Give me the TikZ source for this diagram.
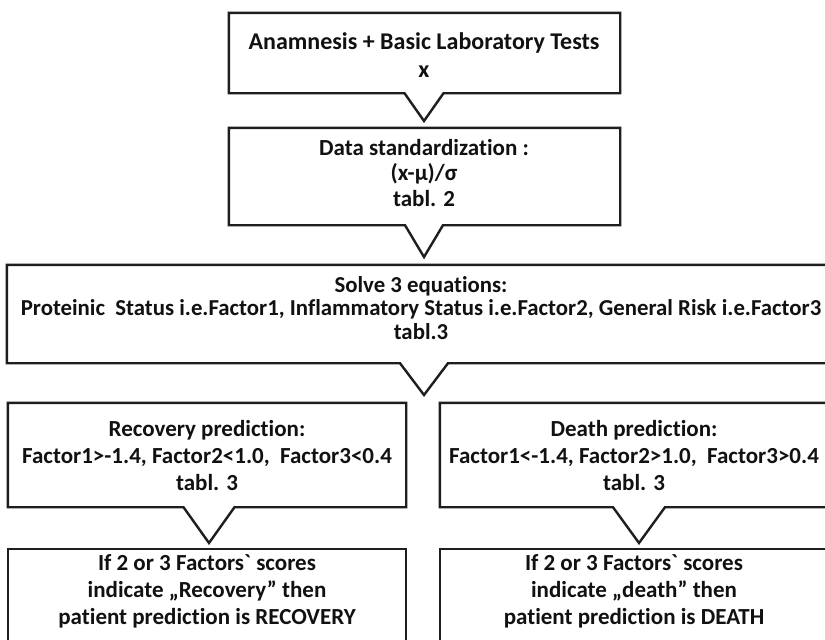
\documentclass[tikz,border=0pt]{standalone}
\usepackage{fontspec}
\newfontfamily\calib{Carlito}[Ligatures=NoCommon]
\usetikzlibrary{calc}
\definecolor{linecol}{HTML}{1E1E1E}
\definecolor{txtcol}{HTML}{111111}
\begin{document}
\begin{tikzpicture}[x=1pt,y=-1pt,
  boxline/.style={draw=linecol, line width=2.4pt, line join=miter},
  frame/.style={rectangle, inner sep=0pt, draw=none},
  txt/.style={align=center, inner sep=0pt, text=txtcol},
  fA/.style={font=\calib\bfseries\fontsize{24}{28}\selectfont},
  fB/.style={font=\calib\bfseries\fontsize{23}{25.5}\selectfont},
  fC/.style={font=\calib\bfseries\fontsize{22.8}{23.5}\selectfont},
  fD/.style={font=\calib\bfseries\fontsize{23}{27}\selectfont}]
\useasboundingbox (0,0) rectangle (825,640);
\clip (0,0) rectangle (825,640);
\fill[white] (0,0) rectangle (825,640);

% box frames
\node[frame, minimum width=391pt, minimum height=80pt] (b1) at (424.5,53) {};
\node[frame, minimum width=391pt, minimum height=97pt] (b2) at (424.5,176.5) {};
\node[frame, minimum width=834pt, minimum height=98pt] (b3) at (424,314) {};
\node[frame, minimum width=398pt, minimum height=104pt] (b4) at (207,455) {};
\node[frame, minimum width=398pt, minimum height=151pt] (b5) at (207,624.5) {};
\node[frame, minimum width=396pt, minimum height=104pt] (b6) at (638,455) {};
\node[frame, minimum width=396pt, minimum height=151pt] (b7) at (638,624.5) {};

% notch tips
\coordinate (n1) at (424,121);
\coordinate (n2) at (424,257);
\coordinate (n3) at (424,395);
\coordinate (n4) at (209,543);
\coordinate (n6) at (639,543);

% callout outlines
\draw[boxline] (b1.south west) -- (b1.north west) -- (b1.north east) -- (b1.south east)
  -- ($(n1|-b1.south)+(19.5,0)$) -- (n1) -- ($(n1|-b1.south)+(-19.5,0)$) -- cycle;
\draw[boxline] (b2.south west) -- (b2.north west) -- (b2.north east) -- (b2.south east)
  -- ($(n2|-b2.south)+(19,0)$) -- (n2) -- ($(n2|-b2.south)+(-19,0)$) -- cycle;
\draw[boxline] (b3.south west) -- (b3.north west) -- (b3.north east) -- (b3.south east)
  -- ($(n3|-b3.south)+(24,0)$) -- (n3) -- ($(n3|-b3.south)+(-24,0)$) -- cycle;
\draw[boxline] (b4.south west) -- (b4.north west) -- (b4.north east) -- (b4.south east)
  -- ($(n4|-b4.south)+(25.5,0)$) -- (n4) -- ($(n4|-b4.south)+(-25.5,0)$) -- cycle;
\draw[boxline] (b6.south west) -- (b6.north west) -- (b6.north east) -- (b6.south east)
  -- ($(n6|-b6.south)+(26,0)$) -- (n6) -- ($(n6|-b6.south)+(-26,0)$) -- cycle;
\draw[boxline] (b5.south west) rectangle (b5.north east);
\draw[boxline] (b7.south west) rectangle (b7.north east);

% texts
\node[txt, fA] (t1) at (424,55) {Anamnesis + Basic Laboratory Tests\\x};
\node[txt, fB] (t2) at (424,173) {Data standardization :\\(x-μ)/σ\\tabl. 2};
\node[txt, fC] (t3) at (421,308) {Solve 3 equations:\\Proteinic\ \ Status i.e.Factor1, Inflammatory Status i.e.Factor2, General Risk i.e.Factor3\\tabl.3};
\node[txt, fD] (t4) at (207,456) {Recovery prediction:\\Factor1>-1.4, Factor2<1.0,\ \ Factor3<0.4\\tabl. 3};
\node[txt, fD] (t5) at (207,591) {If 2 or 3 Factors` scores\\indicate „Recovery” then\\patient prediction is RECOVERY};
\node[txt, fD] (t6) at (634,456) {Death prediction:\\Factor1<-1.4, Factor2>1.0,\ \ Factor3>0.4\\tabl. 3};
\node[txt, fD] (t7) at (634,591) {If 2 or 3 Factors` scores\\indicate „death” then\\patient prediction is DEATH};
\end{tikzpicture}
\end{document}
